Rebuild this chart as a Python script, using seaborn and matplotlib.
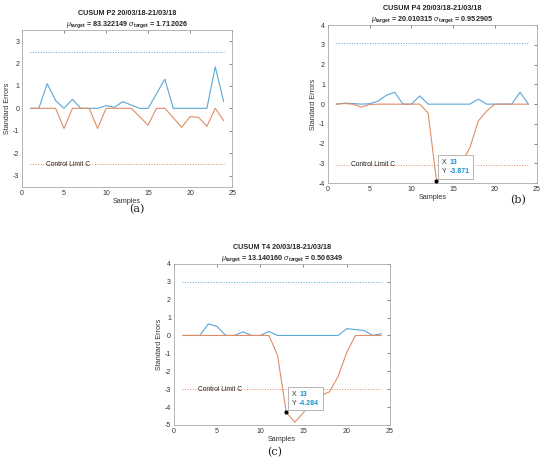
import numpy as np
import pandas as pd
import seaborn as sns
import matplotlib
matplotlib.use("Agg")
import matplotlib.pyplot as plt
from matplotlib.offsetbox import TextArea, HPacker, VPacker, AnnotationBbox

# samples 1..24 for every chart
samples = list(range(1, 25))

# P2 upper / lower cusum
p2_upper = [0, 0, 1.1, 0.35, 0, 0.4, 0, 0, 0, 0.12, 0.05, 0.3,
            0.15, 0, 0, 0.65, 1.3, 0, 0, 0, 0, 0, 1.85, 0.3]
p2_lower = [0, 0, 0, 0, -0.9, 0, 0, 0, -0.9, 0, 0, 0,
            0, -0.37, -0.75, 0, 0, -0.42, -0.85, -0.37, -0.4, -0.8, 0, -0.55]

# P4
p4_upper = [0, 0.05, 0.03, 0, 0.02, 0.15, 0.45, 0.6, 0, 0, 0.42, 0,
            0, 0, 0, 0, 0, 0.25, 0, 0, 0, 0, 0.6, 0]
p4_lower = [0, 0.03, 0, -0.15, -0.02, 0, 0, 0, 0, 0, 0, -0.45,
            -3.871, -3.6, -3.3, -3.0, -2.2, -0.85, -0.35, 0, 0, 0, 0, 0]

# T4
t4_upper = [0, 0, 0, 0.65, 0.5, 0, 0, 0.2, 0, 0, 0.22, 0,
            0, 0, 0, 0, 0, 0, 0, 0.38, 0.33, 0.28, 0, 0.1]
t4_lower = [0, 0, 0, 0, 0, 0, 0, 0, 0, 0, 0, -1.1,
            -4.284, -4.85, -4.3, -3.7, -3.35, -3.15, -2.3, -0.95, 0, 0, 0, 0]

names = ["P2", "P4", "T4"]
mu = ["83.322149", "20.010315", "13.140160"]
sigma = ["1.712026", "0.952905", "0.506349"]
limits = [2.5, 3.08, 3.0]
ylims = [(-3.5, 3.5), (-4, 4), (-5, 4)]
captions = ["(a)", "(b)", "(c)"]
tips = [None, 13, 13]   # datatip sample on lower curve

sns.set_theme(style="white")
plt.rcParams["font.family"] = ["Liberation Sans", "DejaVu Sans"]
plt.rcParams["mathtext.fontset"] = "custom"
plt.rcParams["mathtext.rm"] = "Liberation Sans"
plt.rcParams["mathtext.it"] = "Liberation Sans:italic"
plt.rcParams["mathtext.bf"] = "Liberation Sans:bold"
plt.rcParams["axes.unicode_minus"] = False

blue = "#5aa6d6"
orange = "#e08d66"
tipblue = "#1a8fd0"

fig = plt.figure(figsize=(5.5, 4.67), dpi=100)
positions = [[0.040, 0.600, 0.382, 0.336],
             [0.596, 0.608, 0.380, 0.338],
             [0.316, 0.090, 0.393, 0.345]]
cap_pos = [(137 / 550, 1 - 209 / 467), (518 / 550, 1 - 200 / 467), (275 / 550, 1 - 452 / 467)]

uppers = [p2_upper, p4_upper, t4_upper]
lowers = [p2_lower, p4_lower, t4_lower]

for i in range(3):
    ax = fig.add_axes(positions[i])
    df = pd.DataFrame({"Samples": samples, "upper": uppers[i], "lower": lowers[i]})
    sns.lineplot(data=df, x="Samples", y="upper", ax=ax, color=blue, lw=0.8)
    sns.lineplot(data=df, x="Samples", y="lower", ax=ax, color=orange, lw=0.8)
    c = limits[i]
    ax.plot([samples[0], samples[-1]], [c, c], ls=":", color=blue, lw=0.7)
    ax.plot([samples[0], samples[-1]], [-c, -c], ls=":", color=orange, lw=0.7)
    ax.text(2.8, -c, "Control Limit C", fontsize=4.8, va="center", color="#222222")

    ax.set_xlim(0, 25)
    ax.set_ylim(*ylims[i])
    ax.set_xticks(range(0, 26, 5))
    ax.set_yticks(range(int(np.ceil(ylims[i][0])), int(ylims[i][1]) + 1))
    ax.tick_params(direction="in", length=2, width=0.5, labelsize=5,
                   colors="#555555", labelcolor="#333333", pad=2,
                   top=True, right=True)
    for s in ax.spines.values():
        s.set_color("#a8a8a8")
        s.set_linewidth(0.6)
    ax.set_xlabel("Samples", fontsize=5.2, color="#333333", labelpad=1)
    ax.set_ylabel("Standard Errors", fontsize=5.2, color="#333333", labelpad=1)
    ax.set_title("CUSUM %s 20/03/18-21/03/18\n" % names[i]
                 + r"$\mu_{\mathbf{target}}$ = " + mu[i]
                 + r" $\sigma_{\mathbf{target}}$ = " + sigma[i],
                 fontsize=5.2, fontweight="bold", pad=3, linespacing=1.3)

    if tips[i] is not None:
        k = samples.index(tips[i])
        yv = lowers[i][k]
        ax.plot(tips[i], yv, "o", color="black", ms=2, zorder=5)
        tp = dict(size=5)
        row1 = HPacker(children=[TextArea("X", textprops=dict(color="#333333", **tp)),
                                 TextArea("%d" % tips[i], textprops=dict(color=tipblue, weight="bold", **tp))],
                       pad=0, sep=2)
        row2 = HPacker(children=[TextArea("Y", textprops=dict(color="#333333", **tp)),
                                 TextArea("%.3f" % yv, textprops=dict(color=tipblue, weight="bold", **tp))],
                       pad=0, sep=2)
        box = VPacker(children=[row1, row2], pad=0, sep=1.5)
        ab = AnnotationBbox(box, (tips[i], yv), xybox=(4, 4), xycoords="data",
                            boxcoords="offset points", box_alignment=(0, 0),
                            frameon=True, pad=0.25,
                            bboxprops=dict(edgecolor="#aaaaaa", facecolor="white", lw=0.6))
        ax.add_artist(ab)

    fig.text(cap_pos[i][0], cap_pos[i][1], captions[i], fontsize=8,
             family="DejaVu Serif", ha="center", va="center", color="#222222")

fig.savefig("out.png", dpi=100)
